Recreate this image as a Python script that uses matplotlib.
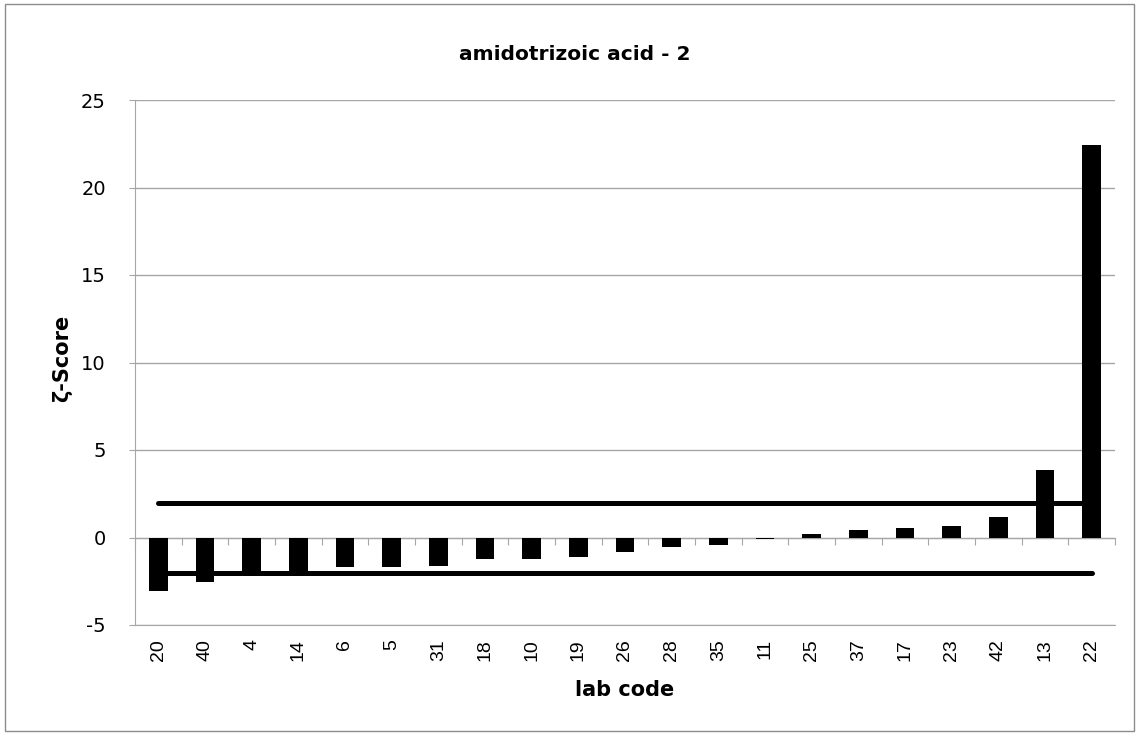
import matplotlib
matplotlib.use("Agg")
import matplotlib.pyplot as plt
from matplotlib.patches import Rectangle
import numpy as np

lab_codes = ["20", "40", "4", "14", "6", "5", "31", "18", "10", "19", "26",
             "28", "35", "11", "25", "37", "17", "23", "42", "13", "22"]
zeta_scores = [-3.03, -2.55, -2.0, -1.97, -1.70, -1.67, -1.63, -1.25, -1.21,
               -1.10, -0.85, -0.52, -0.41, -0.10, 0.18, 0.41, 0.54, 0.66,
               1.19, 3.84, 22.45]
upper_limit = 2
lower_limit = -2

plt.rcParams["axes.unicode_minus"] = False
label_font = "DejaVu Sans"
grey = "#a6a6a6"

fig = plt.figure(figsize=(11.39, 7.35), dpi=100)
fig.patches.append(Rectangle((0.004, 0.006), 0.992, 0.988, transform=fig.transFigure,
                             fill=False, edgecolor="#8c8c8c", linewidth=1.0))

ax = fig.add_axes([135 / 1139, 1 - 625 / 735, 980 / 1139, 525 / 735])
x = np.arange(len(lab_codes))

ax.bar(x, zeta_scores, width=0.4, color="black", zorder=3)
ax.plot(x, [upper_limit] * len(x), color="black", linewidth=3.6,
        solid_capstyle="round", zorder=4)
ax.plot(x, [lower_limit] * len(x), color="black", linewidth=3.6,
        solid_capstyle="round", zorder=4)

ax.set_xlim(-0.5, len(x) - 0.5)
ax.set_ylim(-5, 25)
ax.set_yticks(range(-5, 30, 5))
ax.yaxis.grid(True, color=grey, linewidth=1.0, zorder=0)
ax.set_axisbelow(True)

for side in ("top", "right"):
    ax.spines[side].set_visible(False)
ax.spines["left"].set_color(grey)
ax.spines["bottom"].set_color(grey)
ax.tick_params(axis="y", direction="out", length=4, color=grey,
               labelsize=14, pad=17)
for lbl in ax.get_yticklabels():
    lbl.set_family(label_font)

ax.set_xticks(x)
ax.set_xticklabels(lab_codes, rotation=90, fontsize=14,
                   family="Liberation Sans", va="top")
ax.tick_params(axis="x", length=0, pad=10)

# category axis crossing at zero, with tick marks between categories
zero_axis = ax.secondary_xaxis(5 / 30)
zero_axis.set_xticks(np.arange(-0.5, len(x), 1.0))
zero_axis.set_xticklabels([])
zero_axis.tick_params(axis="x", direction="out", length=5, color=grey)
zero_axis.spines["bottom"].set_color(grey)

fig.text(575 / 1139, 1 - 55 / 735, "amidotrizoic acid - 2", ha="center",
         va="center", fontsize=14.5, fontweight="bold", family=label_font)
fig.text(62 / 1139, 1 - 358 / 735, "ζ-Score", ha="center", va="center",
         rotation=90, fontsize=15, fontweight="bold", family=label_font)
fig.text(625 / 1139, 1 - 690 / 735, "lab code", ha="center", va="center",
         fontsize=15, fontweight="bold", family=label_font)

fig.savefig("out.png", dpi=100)
